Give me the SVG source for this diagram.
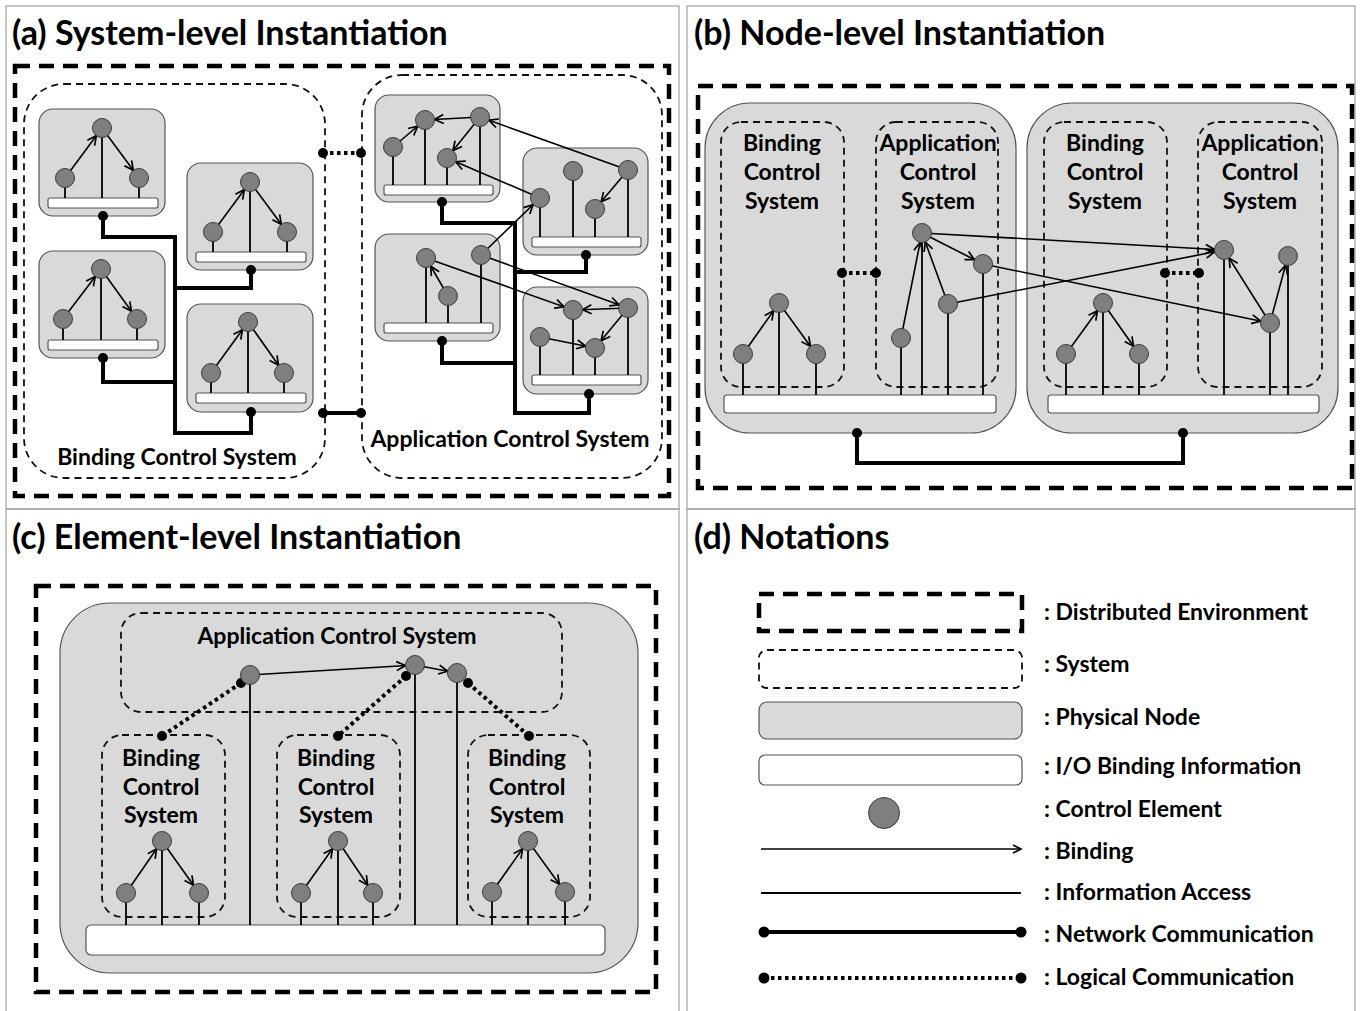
<svg xmlns="http://www.w3.org/2000/svg" width="1362" height="1011" viewBox="0 0 1362 1011">
<style>
.title{font-family:Lato,"Liberation Sans",sans-serif;font-weight:bold;font-size:34px;fill:#000}
.lbl{font-family:Lato,"Liberation Sans",sans-serif;font-weight:bold;font-size:23px;fill:#000}
.frame{fill:none;stroke:#a0a0a0;stroke-width:1.2}
.env{fill:none;stroke:#000;stroke-width:4.5;stroke-dasharray:15 9}
.sys{fill:none;stroke:#111;stroke-width:1.8;stroke-dasharray:7 5}
.pn{fill:#d9d9d9;stroke:#555;stroke-width:1.2}
.bar{fill:#fff;stroke:#555;stroke-width:1.2}
.ce{fill:#7f7f7f;stroke:#3a3a3a;stroke-width:1}
.stem{stroke:#000;stroke-width:1.8}
.arr{stroke:#000;stroke-width:1.6;marker-end:url(#ah)}
.net{fill:none;stroke:#000;stroke-width:4}
.log{stroke:#000;stroke-width:4;stroke-dasharray:3.5 3.5}
.dot{fill:#000}
</style>
<defs>
<marker id="ah" markerUnits="userSpaceOnUse" markerWidth="22" markerHeight="14" viewBox="0 0 22 14" refX="20" refY="7" orient="auto" overflow="visible"><path d="M1.5,2.5 L10.5,7 L1.5,11.5" fill="none" stroke="#000" stroke-width="1.7"/></marker>
<marker id="ah0" markerUnits="userSpaceOnUse" markerWidth="12" markerHeight="12" viewBox="0 0 12 12" refX="10" refY="6" orient="auto" overflow="visible"><path d="M2,2 L10,6 L2,10" fill="none" stroke="#000" stroke-width="1.6"/></marker>
</defs>
<rect width="1362" height="1011" fill="#fff"/>
<g id="frames">
<rect class="frame" x="6" y="6" width="673" height="503"/>
<rect class="frame" x="687" y="6" width="668" height="503"/>
<rect class="frame" x="6" y="509" width="673" height="510"/>
<rect class="frame" x="687" y="509" width="668" height="510"/>
</g>
<g id="titles">
<text class="title" x="12" y="45">(a) System-level Instantiation</text>
<text class="title" x="694" y="45">(b) Node-level Instantiation</text>
<text class="title" x="12" y="549">(c) Element-level Instantiation</text>
<text class="title" x="694" y="549">(d) Notations</text>
</g>

<!-- ================= PANEL A ================= -->
<g id="a-env"><rect class="env" x="15" y="66" width="654" height="430"/></g>
<g id="a-bcs"><rect class="sys" x="24" y="84" width="301" height="394" rx="40"/>
<text class="lbl" x="177" y="465" text-anchor="middle">Binding Control System</text></g>
<g id="a-acs"><rect class="sys" x="362" y="75" width="300" height="403" rx="40"/>
<text class="lbl" x="510" y="447" text-anchor="middle">Application Control System</text></g>

<g id="a-n1"><rect class="pn" x="39" y="109" width="126" height="107" rx="14"/><rect class="bar" x="48" y="198" width="110" height="10" rx="2"/></g>
<g id="a-n2"><rect class="pn" x="187" y="163" width="126" height="107" rx="14"/><rect class="bar" x="196" y="252" width="110" height="10" rx="2"/></g>
<g id="a-n3"><rect class="pn" x="39" y="251" width="126" height="107" rx="14"/><rect class="bar" x="48" y="340" width="110" height="10" rx="2"/></g>
<g id="a-n4"><rect class="pn" x="187" y="304" width="126" height="108" rx="14"/><rect class="bar" x="196" y="393" width="110" height="10" rx="2" fill="#f4f4f4"/></g>
<g id="a-nA"><rect class="pn" x="375" y="95" width="125" height="107" rx="14"/><rect class="bar" x="384" y="185" width="109" height="10" rx="2"/></g>
<g id="a-nB"><rect class="pn" x="523" y="148" width="125" height="107" rx="14"/><rect class="bar" x="532" y="237" width="109" height="10" rx="2"/></g>
<g id="a-nC"><rect class="pn" x="375" y="234" width="125" height="107" rx="14"/><rect class="bar" x="384" y="323" width="109" height="10" rx="2"/></g>
<g id="a-nD"><rect class="pn" x="523" y="287" width="125" height="107" rx="14"/><rect class="bar" x="532" y="375" width="109" height="10" rx="2"/></g>

<!-- ================= PANEL B ================= -->
<g id="b-env"><rect class="env" x="698" y="86" width="654" height="402"/></g>
<g id="b-pn1"><rect class="pn" x="705" y="103" width="311" height="330" rx="45"/></g>
<g id="b-pn2"><rect class="pn" x="1027" y="103" width="311" height="330" rx="45"/></g>
<g id="b-bcs1"><rect class="sys" x="721" y="122" width="123" height="265" rx="20"/>
<text class="lbl" text-anchor="middle"><tspan x="782" y="151">Binding</tspan><tspan x="782" y="180">Control</tspan><tspan x="782" y="209">System</tspan></text></g>
<g id="b-acs1"><rect class="sys" x="876" y="122" width="122" height="265" rx="20"/>
<text class="lbl" text-anchor="middle"><tspan x="938" y="151">Application</tspan><tspan x="938" y="180">Control</tspan><tspan x="938" y="209">System</tspan></text></g>
<g id="b-bcs2"><rect class="sys" x="1044" y="122" width="123" height="265" rx="20"/>
<text class="lbl" text-anchor="middle"><tspan x="1105" y="151">Binding</tspan><tspan x="1105" y="180">Control</tspan><tspan x="1105" y="209">System</tspan></text></g>
<g id="b-acs2"><rect class="sys" x="1198" y="122" width="124" height="265" rx="20"/>
<text class="lbl" text-anchor="middle"><tspan x="1260" y="151">Application</tspan><tspan x="1260" y="180">Control</tspan><tspan x="1260" y="209">System</tspan></text></g>
<g id="b-bars"><rect class="bar" x="724" y="395" width="272" height="18" rx="3"/><rect class="bar" x="1048" y="395" width="271" height="18" rx="3"/></g>

<!-- ================= PANEL C ================= -->
<g id="c-env"><rect class="env" x="36" y="586" width="620" height="406"/></g>
<g id="c-pn"><rect class="pn" x="60" y="603" width="578" height="370" rx="50"/></g>
<g id="c-acs"><rect class="sys" x="121" y="613" width="441" height="99" rx="20"/>
<text class="lbl" x="337" y="644" text-anchor="middle">Application Control System</text></g>
<g id="c-bcs1"><rect class="sys" x="102" y="735" width="123" height="182" rx="20"/>
<text class="lbl" text-anchor="middle"><tspan x="161" y="766">Binding</tspan><tspan x="161" y="795">Control</tspan><tspan x="161" y="823">System</tspan></text></g>
<g id="c-bcs2"><rect class="sys" x="277" y="735" width="123" height="182" rx="20"/>
<text class="lbl" text-anchor="middle"><tspan x="336" y="766">Binding</tspan><tspan x="336" y="795">Control</tspan><tspan x="336" y="823">System</tspan></text></g>
<g id="c-bcs3"><rect class="sys" x="468" y="735" width="122" height="182" rx="20"/>
<text class="lbl" text-anchor="middle"><tspan x="527" y="766">Binding</tspan><tspan x="527" y="795">Control</tspan><tspan x="527" y="823">System</tspan></text></g>
<g id="c-bar"><rect class="bar" x="86" y="925" width="519" height="30" rx="5"/></g>

<!-- ================= CONNECTORS ================= -->
<g id="connectors">
<path class="stem" fill="none" d="M102,128V198 M65,178V198 M139,178V198 M250,182V252 M213,232V252 M287,232V252 M101,269V340 M63,319V340 M137,319V340 M248,322V393 M211,373V393 M284,373V393
 M393,147V185 M425,120V185 M447,158V185 M480,117V185 M540,198V237 M573,171V237 M595,209V237 M628,170V237
 M426,258V323 M448,296V323 M481,255V323 M540,337V375 M573,310V375 M595,348V375 M628,308V375"/>
<line class="arr" x1="65" y1="178" x2="102" y2="128"/><line class="arr" x1="102" y1="128" x2="139" y2="178"/>
<line class="arr" x1="213" y1="232" x2="250" y2="182"/><line class="arr" x1="250" y1="182" x2="287" y2="232"/>
<line class="arr" x1="63" y1="319" x2="101" y2="269"/><line class="arr" x1="101" y1="269" x2="137" y2="319"/>
<line class="arr" x1="211" y1="373" x2="248" y2="322"/><line class="arr" x1="248" y1="322" x2="284" y2="373"/>
<line class="arr" x1="393" y1="147" x2="425" y2="120"/>
<line class="arr" x1="480" y1="117" x2="425" y2="120"/>
<line class="arr" x1="480" y1="117" x2="447" y2="158"/>
<line class="arr" x1="628" y1="170" x2="480" y2="117"/>
<line class="arr" x1="540" y1="198" x2="447" y2="158"/>
<line class="arr" x1="628" y1="170" x2="595" y2="209"/>
<line class="arr" x1="448" y1="296" x2="426" y2="258"/>
<line class="arr" x1="481" y1="255" x2="540" y2="198"/>
<line class="arr" x1="426" y1="258" x2="573" y2="310"/>
<line class="arr" x1="481" y1="255" x2="628" y2="308"/>
<line class="arr" x1="628" y1="308" x2="573" y2="310"/>
<line class="arr" x1="628" y1="308" x2="595" y2="348"/>
<line class="arr" x1="540" y1="337" x2="595" y2="348"/>
<path class="net" d="M103,216V237H175V433H251V412 M251,270V288H175 M103,358V382H175"/>
<path class="net" d="M442,202V223H515V413H589V394 M586,255V272H515 M442,341V363H515"/>
<line class="net" x1="323" y1="413" x2="361" y2="413"/>
<line class="log" x1="323" y1="153" x2="361" y2="153"/>
<g class="dot">
<circle cx="103" cy="216" r="5"/><circle cx="251" cy="270" r="5"/><circle cx="103" cy="358" r="5"/><circle cx="251" cy="412" r="5"/>
<circle cx="442" cy="202" r="5"/><circle cx="586" cy="255" r="5"/><circle cx="442" cy="341" r="5"/><circle cx="589" cy="394" r="5"/>
<circle cx="323" cy="413" r="5"/><circle cx="361" cy="413" r="5"/><circle cx="323" cy="153" r="5"/><circle cx="361" cy="153" r="5"/>
</g>

<path class="stem" fill="none" d="M779,303V395 M743,354V395 M816,354V395 M922,233V395 M983,264V395 M948,304V395 M901,338V395
 M1103,303V395 M1066,354V395 M1139,354V395 M1224,250V395 M1288,256V395 M1270,323V395"/>
<line class="arr" x1="743" y1="354" x2="779" y2="303"/><line class="arr" x1="779" y1="303" x2="816" y2="354"/>
<line class="arr" x1="1066" y1="354" x2="1103" y2="303"/><line class="arr" x1="1103" y1="303" x2="1139" y2="354"/>
<line class="arr" x1="901" y1="338" x2="922" y2="233"/>
<line class="arr" x1="948" y1="304" x2="922" y2="233"/>
<line class="arr" x1="922" y1="233" x2="983" y2="264"/>
<line class="arr" x1="922" y1="233" x2="1224" y2="250"/>
<line class="arr" x1="948" y1="304" x2="1224" y2="250"/>
<line class="arr" x1="983" y1="264" x2="1270" y2="323"/>
<line class="arr" x1="1270" y1="323" x2="1224" y2="250"/>
<line class="arr" x1="1270" y1="323" x2="1288" y2="256"/>
<line class="log" x1="842" y1="273" x2="876" y2="273"/>
<line class="log" x1="1165" y1="273" x2="1199" y2="273"/>
<path class="net" d="M857,433V463H1183V433"/>
<g class="dot">
<circle cx="842" cy="273" r="5"/><circle cx="876" cy="273" r="5"/><circle cx="1165" cy="273" r="5"/><circle cx="1199" cy="273" r="5"/>
<circle cx="857" cy="433" r="5"/><circle cx="1183" cy="433" r="5"/>
</g>

<path class="stem" fill="none" d="M250,675V925 M415,665V925 M457,673V925
 M162,841V925 M126,893V925 M199,893V925 M338,841V925 M301,893V925 M373,893V925 M528,841V925 M492,892V925 M565,892V925"/>
<line class="arr" x1="250" y1="675" x2="415" y2="665"/>
<line class="arr" x1="415" y1="665" x2="457" y2="673"/>
<line class="arr" x1="126" y1="893" x2="162" y2="841"/><line class="arr" x1="162" y1="841" x2="199" y2="893"/>
<line class="arr" x1="301" y1="893" x2="338" y2="841"/><line class="arr" x1="338" y1="841" x2="373" y2="893"/>
<line class="arr" x1="492" y1="892" x2="528" y2="841"/><line class="arr" x1="528" y1="841" x2="565" y2="892"/>
<line class="log" x1="241" y1="683" x2="162" y2="736"/>
<line class="log" x1="406" y1="676" x2="338" y2="736"/>
<line class="log" x1="468" y1="683" x2="529" y2="736"/>
<g class="dot">
<circle cx="241" cy="683" r="5"/><circle cx="162" cy="736" r="5"/><circle cx="406" cy="676" r="5"/><circle cx="338" cy="736" r="5"/><circle cx="468" cy="683" r="5"/><circle cx="529" cy="736" r="5"/>
</g>
</g>

<!-- ================= CONTROL ELEMENTS ================= -->
<g id="a-n1-ce" class="ce"><circle cx="102" cy="128" r="9.5"/><circle cx="65" cy="178" r="9.5"/><circle cx="139" cy="178" r="9.5"/></g>
<g id="a-n2-ce" class="ce"><circle cx="250" cy="182" r="9.5"/><circle cx="213" cy="232" r="9.5"/><circle cx="287" cy="232" r="9.5"/></g>
<g id="a-n3-ce" class="ce"><circle cx="101" cy="269" r="9.5"/><circle cx="63" cy="319" r="9.5"/><circle cx="137" cy="319" r="9.5"/></g>
<g id="a-n4-ce" class="ce"><circle cx="248" cy="322" r="9.5"/><circle cx="211" cy="373" r="9.5"/><circle cx="284" cy="373" r="9.5"/></g>
<g id="a-nA-ce" class="ce"><circle cx="393" cy="147" r="9.5"/><circle cx="425" cy="120" r="9.5"/><circle cx="480" cy="117" r="9.5"/><circle cx="447" cy="158" r="9.5"/></g>
<g id="a-nB-ce" class="ce"><circle cx="540" cy="198" r="9.5"/><circle cx="573" cy="171" r="9.5"/><circle cx="595" cy="209" r="9.5"/><circle cx="628" cy="170" r="9.5"/></g>
<g id="a-nC-ce" class="ce"><circle cx="426" cy="258" r="9.5"/><circle cx="448" cy="296" r="9.5"/><circle cx="481" cy="255" r="9.5"/></g>
<g id="a-nD-ce" class="ce"><circle cx="540" cy="337" r="9.5"/><circle cx="573" cy="310" r="9.5"/><circle cx="595" cy="348" r="9.5"/><circle cx="628" cy="308" r="9.5"/></g>
<g id="b-pn1-ce" class="ce"><circle cx="779" cy="303" r="9.5"/><circle cx="743" cy="354" r="9.5"/><circle cx="816" cy="354" r="9.5"/><circle cx="922" cy="233" r="9.5"/><circle cx="983" cy="264" r="9.5"/><circle cx="948" cy="304" r="9.5"/><circle cx="901" cy="338" r="9.5"/></g>
<g id="b-pn2-ce" class="ce"><circle cx="1103" cy="303" r="9.5"/><circle cx="1066" cy="354" r="9.5"/><circle cx="1139" cy="354" r="9.5"/><circle cx="1224" cy="250" r="9.5"/><circle cx="1288" cy="256" r="9.5"/><circle cx="1270" cy="323" r="9.5"/></g>
<g id="c-ce" class="ce"><circle cx="250" cy="675" r="9.5"/><circle cx="415" cy="665" r="9.5"/><circle cx="457" cy="673" r="9.5"/>
<circle cx="162" cy="841" r="9.5"/><circle cx="126" cy="893" r="9.5"/><circle cx="199" cy="893" r="9.5"/>
<circle cx="338" cy="841" r="9.5"/><circle cx="301" cy="893" r="9.5"/><circle cx="373" cy="893" r="9.5"/>
<circle cx="528" cy="841" r="9.5"/><circle cx="492" cy="892" r="9.5"/><circle cx="565" cy="892" r="9.5"/></g>

<!-- ================= PANEL D ================= -->
<g id="d-legend">
<rect class="env" x="759" y="594" width="263" height="37"/>
<rect class="sys" x="759" y="650" width="263" height="38" rx="8"/>
<rect class="pn" x="759" y="702" width="263" height="37" rx="8"/>
<rect class="bar" x="759" y="755" width="263" height="30" rx="6"/>
<circle class="ce" cx="884" cy="813" r="15.5"/>
<line x1="761" y1="849" x2="1021" y2="849" stroke="#000" stroke-width="1.6" marker-end="url(#ah0)"/>
<line class="stem" x1="761" y1="893" x2="1021" y2="893"/>
<line class="net" x1="764" y1="932" x2="1021" y2="932"/>
<line class="log" x1="764" y1="978" x2="1021" y2="978"/>
<g class="dot"><circle cx="764" cy="932" r="5.5"/><circle cx="1021" cy="932" r="5.5"/><circle cx="764" cy="978" r="5.5"/><circle cx="1021" cy="978" r="5.5"/></g>
<text class="lbl" x="1044" y="620">: Distributed Environment</text>
<text class="lbl" x="1044" y="672">: System</text>
<text class="lbl" x="1044" y="725">: Physical Node</text>
<text class="lbl" x="1044" y="774">: I/O Binding Information</text>
<text class="lbl" x="1044" y="817">: Control Element</text>
<text class="lbl" x="1044" y="859">: Binding</text>
<text class="lbl" x="1044" y="900">: Information Access</text>
<text class="lbl" x="1044" y="942">: Network Communication</text>
<text class="lbl" x="1044" y="985">: Logical Communication</text>
</g>
</svg>
